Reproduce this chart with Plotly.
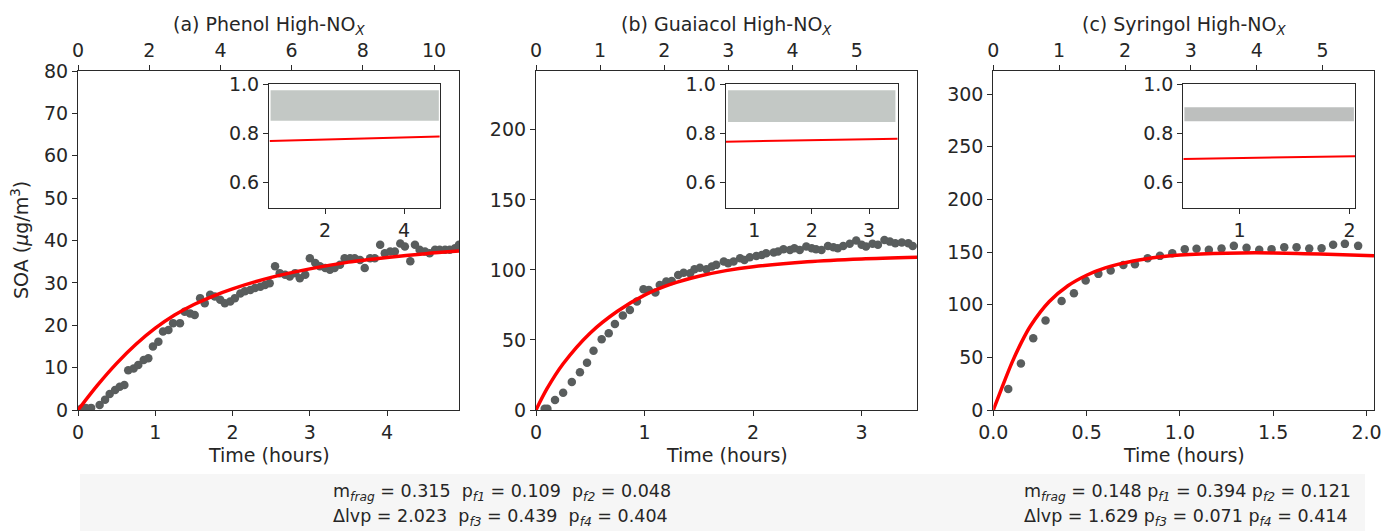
import plotly.graph_objects as go

# ---------------- data ----------------
a_t = [0.04,0.10,0.17,0.28,0.35,0.41,0.48,0.54,0.60,0.65,0.72,0.78,0.85,0.91,0.97,
       1.04,1.10,1.17,1.23,1.32,1.38,1.45,1.51,1.58,1.64,1.71,1.77,1.84,1.90,1.97,
       2.03,2.10,2.16,2.23,2.29,2.36,2.42,2.48,2.55,2.61,2.68,2.74,2.81,2.87,2.94,
       3.00,3.07,3.13,3.20,3.26,3.32,3.39,3.45,3.52,3.58,3.65,3.71,3.78,3.84,3.91,3.97,
       4.04,4.10,4.17,4.23,4.30,4.36,4.42,4.49,4.55,4.62,4.68,4.75,4.81,4.88,4.93]
a_soa = [0.3,0.5,0.5,1.2,2.4,3.8,4.7,5.5,5.9,9.4,9.8,10.6,11.8,12.2,15.0,
         16.1,18.5,18.9,20.5,20.5,23.2,22.8,22.4,26.4,25.2,27.2,26.8,26.0,25.2,25.6,
         26.4,27.5,28.0,28.3,28.8,29.1,29.5,29.9,33.9,32.3,31.9,31.5,32.3,31.1,31.9,
         35.8,34.7,33.9,33.5,33.1,33.5,34.3,35.8,35.8,35.8,35.4,33.5,35.8,35.8,39.0,37.0,
         37.4,37.4,39.3,38.6,35.1,39.0,37.8,37.4,37.0,37.8,37.8,37.8,37.8,38.2,39.0]
a_model_t = [0,0.25,0.5,0.75,1.0,1.25,1.5,1.75,2.0,2.5,3.0,3.5,4.0,4.5,4.93]
a_model = [0,5.8,11.0,15.5,19.3,22.4,24.9,26.9,28.6,31.3,33.3,34.9,36.0,36.9,37.5]

b_t = [0.08,0.105,0.175,0.25,0.33,0.405,0.47,0.53,0.605,0.67,
       0.727,0.80,0.865,0.93,0.99,1.04,1.10,1.14,1.20,1.25,
       1.31,1.36,1.42,1.46,1.51,1.57,1.62,1.66,1.73,1.77,
       1.82,1.88,1.92,1.97,2.03,2.08,2.12,2.19,2.23,2.28,
       2.34,2.38,2.43,2.49,2.54,2.58,2.63,2.69,2.74,2.78,
       2.83,2.89,2.95,3.00,3.04,3.10,3.15,3.21,3.26,3.31,
       3.37,3.43,3.47]
b_soa = [0.9,0.9,7.1,12.3,20.0,27.0,33.8,42.3,50.5,54.8,
         61.4,67.4,71.4,77.4,86.2,85.7,83.8,89.3,91.7,92.1,
         96.4,98.0,97.6,100.5,101.6,100.5,102.4,103.6,106.0,104.8,
         106.0,108.3,107.1,109.0,110.0,110.7,111.9,112.4,113.1,114.8,
         114.3,115.5,114.3,116.7,115.5,114.8,114.3,117.1,116.2,115.5,
         117.1,118.6,121.0,117.9,116.7,118.6,117.9,121.4,120.2,119.0,
         119.5,119.0,117.1]
b_model_t = [0,0.1,0.25,0.5,0.75,1.0,1.25,1.5,1.75,2.0,2.5,3.0,3.51]
b_model = [0,15,33,55,70.5,82,90,95.5,99.5,102.3,105.8,107.8,109]

c_t = [0.08,0.148,0.214,0.28,0.366,0.432,0.495,0.563,0.629,0.697,0.759,0.827,0.893,0.959,
       1.026,1.089,1.155,1.223,1.289,1.357,1.425,1.491,1.559,1.625,1.693,1.759,1.821,1.884,1.955]
c_soa = [20,44.1,68.1,85,103.6,110.9,122.9,129.3,132.4,137.8,138.5,144.1,146.4,148.9,
         152.8,153.1,152.1,153.4,155.9,154,152.1,152.8,154.7,154.7,153.4,153.7,156.9,157.8,155.9]
c_model_t = [0,0.05,0.1,0.15,0.2,0.3,0.4,0.5,0.6,0.75,0.9,1.0,1.25,1.5,1.75,2.04]
c_model = [0,23,45,64,80,103,118,128,135,141.5,145.5,147.2,149,149.2,148.2,146.5]

# inset data (O:C-like ratio)
a_in_t = [0.6, 2.7, 4.9];   a_in_y = [0.768, 0.776, 0.786]
b_in_t = [0.5, 2.0, 3.5];   b_in_y = [0.765, 0.771, 0.777]
c_in_t = [0.49, 1.27, 2.05]; c_in_y = [0.695, 0.700, 0.706]
a_band_t = [0.62, 4.88]; a_band_lo = [0.85, 0.85];   a_band_hi = [0.975, 0.975]
b_band_t = [0.54, 3.46]; b_band_lo = [0.845, 0.845]; b_band_hi = [0.975, 0.975]
c_band_t = [0.50, 2.04]; c_band_lo = [0.848, 0.848]; c_band_hi = [0.905, 0.905]

titles = ["(a) Phenol High-NO<sub><i>X</i></sub>",
          "(b) Guaiacol High-NO<sub><i>X</i></sub>",
          "(c) Syringol High-NO<sub><i>X</i></sub>"]

params_a = {"mfrag": "0.315", "pf1": "0.109", "pf2": "0.048", "dlvp": "2.023", "pf3": "0.439", "pf4": "0.404"}
params_c = {"mfrag": "0.148", "pf1": "0.394", "pf2": "0.121", "dlvp": "1.629", "pf3": "0.071", "pf4": "0.414"}

# ---------------- layout helpers ----------------
W, H = 1381, 531
def fx(p): return p / W
def fy(p): return 1 - p / H

FONT = "DejaVu Sans"
TXT = "#262626"
LINE = "#2a2a2a"
DOT = "#595d5d"
RED = "#ff0000"
FS = 19

main_x = [(78, 459), (536, 917), (993.3, 1374)]
main_y = (71, 410)
ins_x = [(269, 440), (725.7, 897.7), (1183.3, 1355)]
ins_y = (84, 208)

def axstyle(**kw):
    d = dict(showline=True, linecolor=LINE, linewidth=1.2, ticks="outside", ticklen=5,
             tickwidth=1.1, tickcolor=LINE, showgrid=False, zeroline=False, automargin=False,
             ticklabeloverflow="allow",
             tickfont=dict(family=FONT, size=FS, color=TXT))
    d.update(kw)
    return d

fig = go.Figure()

panels = [
    (a_t, a_soa, a_model_t, a_model, a_in_t, a_in_y, a_band_t, a_band_lo, a_band_hi, "#c3c8c5"),
    (b_t, b_soa, b_model_t, b_model, b_in_t, b_in_y, b_band_t, b_band_lo, b_band_hi, "#c3c8c5"),
    (c_t, c_soa, c_model_t, c_model, c_in_t, c_in_y, c_band_t, c_band_lo, c_band_hi, "#bdbfbe"),
]

for i, (t, s, mt, m, it, iy, bt, blo, bhi, bcol) in enumerate(panels):
    xa = "x" if i == 0 else f"x{i+1}"
    ya = "y" if i == 0 else f"y{i+1}"
    xtop = f"x{i+4}"
    xin = f"x{i+7}"
    yin = f"y{i+7}"
    fig.add_trace(go.Scatter(x=t, y=s, mode="markers", xaxis=xa, yaxis=ya,
                             marker=dict(color=DOT, size=8.5), showlegend=False))
    fig.add_trace(go.Scatter(x=mt, y=m, mode="lines", xaxis=xa, yaxis=ya,
                             line=dict(color=RED, width=3.5, shape="spline", smoothing=0.8),
                             showlegend=False))
    fig.add_trace(go.Scatter(x=[], y=[], mode="markers", xaxis=xtop, yaxis=ya, showlegend=False))
    fig.add_trace(go.Scatter(x=bt, y=blo, mode="lines", xaxis=xin, yaxis=yin,
                             line=dict(width=0, color=bcol), showlegend=False))
    fig.add_trace(go.Scatter(x=bt, y=bhi, mode="lines", xaxis=xin, yaxis=yin, fill="tonexty",
                             fillcolor=bcol, line=dict(width=0, color=bcol), showlegend=False))
    fig.add_trace(go.Scatter(x=it, y=iy, mode="lines", xaxis=xin, yaxis=yin,
                             line=dict(color=RED, width=2), showlegend=False))

layout = dict(width=W, height=H, margin=dict(l=0, r=0, t=0, b=0, autoexpand=False),
              paper_bgcolor="white", plot_bgcolor="white",
              font=dict(family=FONT, color=TXT, size=FS))

x_ranges = [[0, 4.93], [0, 3.51], [0, 2.04]]
x_dticks = [1, 1, 0.5]
x_fmt = ["d", "d", ".1f"]
y_ranges = [[0, 80], [0, 242], [0, 322]]
y_dticks = [10, 50, 50]
top_ranges = [[0, 10.7], [0, 5.94], [0, 5.78]]
top_dticks = [2, 1, 1]
ins_xr = [[0.58, 4.91], [0.5, 3.5], [0.49, 2.05]]

for i in range(3):
    sfx = "" if i == 0 else str(i + 1)
    layout[f"xaxis{sfx}"] = axstyle(domain=[fx(main_x[i][0]), fx(main_x[i][1])], range=x_ranges[i],
                                     dtick=x_dticks[i], tick0=0, tickformat=x_fmt[i],
                                     anchor="y" + sfx)
    layout[f"yaxis{sfx}"] = axstyle(domain=[fy(main_y[1]), fy(main_y[0])], range=y_ranges[i],
                                     dtick=y_dticks[i], tick0=0, mirror=True,
                                     anchor="x" + sfx)
    layout[f"xaxis{i+4}"] = axstyle(overlaying="x" + sfx, side="top", anchor="y" + sfx,
                                     range=top_ranges[i], dtick=top_dticks[i], tick0=0)
    layout[f"xaxis{i+7}"] = axstyle(domain=[fx(ins_x[i][0]), fx(ins_x[i][1])], range=ins_xr[i],
                                     dtick=1 if i > 0 else 2, tick0=0, mirror=True,
                                     anchor=f"y{i+7}")
    layout[f"yaxis{i+7}"] = axstyle(domain=[fy(ins_y[1]), fy(ins_y[0])], range=[0.495, 1.0],
                                     tickvals=[0.6, 0.8, 1.0], tickformat=".1f", mirror=True,
                                     anchor=f"x{i+7}")

fig.update_layout(**layout)

ann = []
for i in range(3):
    cx = fx((main_x[i][0] + main_x[i][1]) / 2)
    ann.append(dict(text=titles[i], x=cx, y=fy(26), xref="paper", yref="paper",
                    showarrow=False, xanchor="center", yanchor="middle",
                    font=dict(family=FONT, size=FS, color=TXT)))
    ann.append(dict(text="Time (hours)", x=cx, y=fy(455), xref="paper", yref="paper",
                    showarrow=False, xanchor="center", yanchor="middle",
                    font=dict(family=FONT, size=FS, color=TXT)))
ann.append(dict(text="SOA (<i>μ</i>g/m<sup>3</sup>)", x=fx(20), y=fy(240), xref="paper", yref="paper",
                showarrow=False, textangle=-90, xanchor="center", yanchor="middle",
                font=dict(family=FONT, size=FS, color=TXT)))

def sub(s):
    return f"<sub><i>{s}</i></sub>"

def lines(p, sep):
    l1 = f"m{sub('frag')} = {p['mfrag']}{sep}p{sub('f1')} = {p['pf1']}{sep}p{sub('f2')} = {p['pf2']}"
    l2 = f"Δlvp = {p['dlvp']}{sep}p{sub('f3')} = {p['pf3']}{sep}p{sub('f4')} = {p['pf4']}"
    return l1, l2

for p, x0, sep in [(params_a, 331, "\u00a0\u00a0"), (params_c, 1022, " ")]:
    l1, l2 = lines(p, sep)
    for txt, yy in [(l1, 492), (l2, 517)]:
        ann.append(dict(text=txt, x=fx(x0), y=fy(yy), xref="paper", yref="paper",
                        showarrow=False, xanchor="left", yanchor="middle",
                        font=dict(family=FONT, size=17.5, color=TXT)))

fig.update_layout(annotations=ann)
fig.add_shape(type="rect", xref="paper", yref="paper", x0=fx(80), x1=fx(1365), y0=0, y1=fy(474),
              fillcolor="#f6f6f6", line=dict(width=0), layer="below")

fig.write_html("out.html", config={"displayModeBar": False},
               post_script="document.body.style.margin='0';document.body.style.overflow='hidden';")
